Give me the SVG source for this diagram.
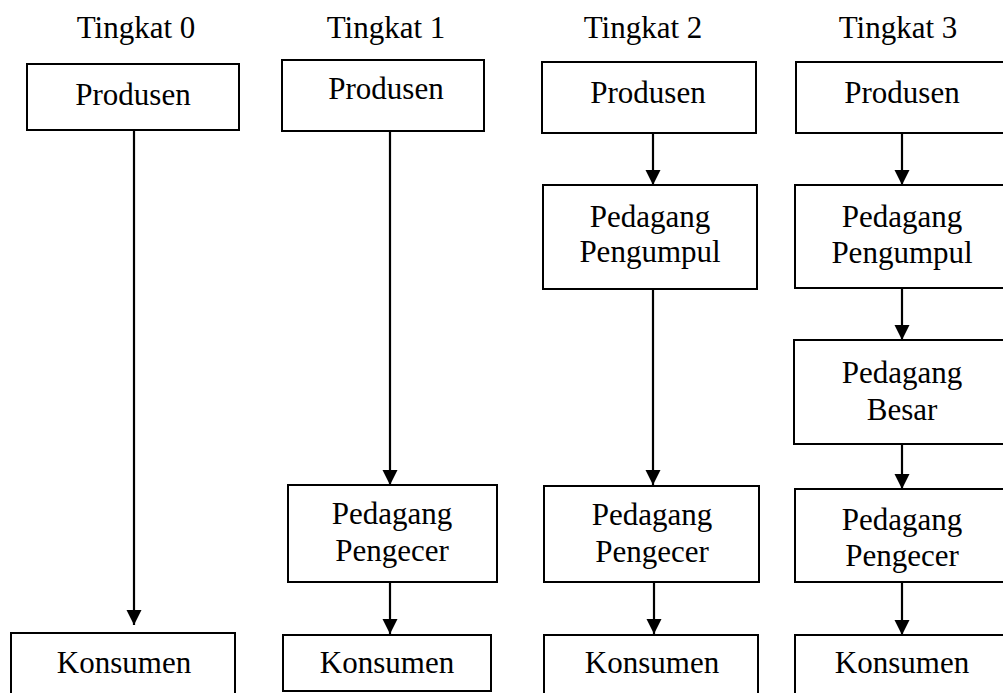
<svg xmlns="http://www.w3.org/2000/svg" width="1003" height="693" viewBox="0 0 1003 693">
<style>
.box{fill:#fff;stroke:#000;stroke-width:2}
.t{font-family:"Liberation Serif","Times New Roman",serif;font-size:31px;fill:#000;text-anchor:middle}
.c{stroke:#000;stroke-width:2.2;fill:none;marker-end:url(#ah)}
</style>
<defs>
<marker id="ah" markerUnits="userSpaceOnUse" markerWidth="16" markerHeight="16" viewBox="0 0 16 16" refX="15" refY="7.5" orient="auto">
<path d="M0,0 L15,7.5 L0,15 z" fill="#000"/>
</marker>
</defs>
<rect width="1003" height="693" fill="#fff"/>
<g id="titles">
<text class="t" x="136" y="38">Tingkat 0</text>
<text class="t" x="386" y="38">Tingkat 1</text>
<text class="t" x="643" y="38">Tingkat 2</text>
<text class="t" x="898" y="38">Tingkat 3</text>
</g>
<g id="connectors">
<line class="c" x1="134" y1="131" x2="134" y2="625"/>
<line class="c" x1="390" y1="131" x2="390" y2="485"/>
<line class="c" x1="390" y1="582" x2="390" y2="634"/>
<line class="c" x1="653" y1="133" x2="653" y2="185"/>
<line class="c" x1="653" y1="289" x2="653" y2="485"/>
<line class="c" x1="654" y1="582" x2="654" y2="634"/>
<line class="c" x1="902" y1="133" x2="902" y2="185"/>
<line class="c" x1="902" y1="288" x2="902" y2="340"/>
<line class="c" x1="902" y1="444" x2="902" y2="489"/>
<line class="c" x1="902" y1="582" x2="902" y2="635"/>
</g>
<g id="n0-produsen"><rect class="box" x="27" y="64" width="212" height="66"/><text class="t" x="133" y="105">Produsen</text></g>
<g id="n0-konsumen"><rect class="box" x="11" y="633" width="224" height="80"/><text class="t" x="124" y="673">Konsumen</text></g>
<g id="n1-produsen"><rect class="box" x="282" y="60" width="202" height="71"/><text class="t" x="386" y="99">Produsen</text></g>
<g id="n1-pengecer"><rect class="box" x="288" y="485" width="209" height="97"/><text class="t" x="392" y="524">Pedagang</text><text class="t" x="392" y="561">Pengecer</text></g>
<g id="n1-konsumen"><rect class="box" x="283" y="635" width="208" height="56"/><text class="t" x="387" y="673">Konsumen</text></g>
<g id="n2-produsen"><rect class="box" x="542" y="62" width="214" height="71"/><text class="t" x="648" y="103">Produsen</text></g>
<g id="n2-pengumpul"><rect class="box" x="543" y="185" width="214" height="104"/><text class="t" x="650" y="227">Pedagang</text><text class="t" x="650" y="262">Pengumpul</text></g>
<g id="n2-pengecer"><rect class="box" x="544" y="486" width="215" height="96"/><text class="t" x="652" y="525">Pedagang</text><text class="t" x="652" y="562">Pengecer</text></g>
<g id="n2-konsumen"><rect class="box" x="544" y="635" width="214" height="80"/><text class="t" x="652" y="673">Konsumen</text></g>
<g id="n3-produsen"><rect class="box" x="796" y="62" width="214" height="71"/><text class="t" x="902" y="103">Produsen</text></g>
<g id="n3-pengumpul"><rect class="box" x="795" y="185" width="215" height="103"/><text class="t" x="902" y="227">Pedagang</text><text class="t" x="902" y="263">Pengumpul</text></g>
<g id="n3-besar"><rect class="box" x="794" y="340" width="216" height="104"/><text class="t" x="902" y="383">Pedagang</text><text class="t" x="902" y="420">Besar</text></g>
<g id="n3-pengecer"><rect class="box" x="795" y="489" width="215" height="93"/><text class="t" x="902" y="530">Pedagang</text><text class="t" x="902" y="566">Pengecer</text></g>
<g id="n3-konsumen"><rect class="box" x="795" y="635" width="215" height="80"/><text class="t" x="902" y="673">Konsumen</text></g>
</svg>
